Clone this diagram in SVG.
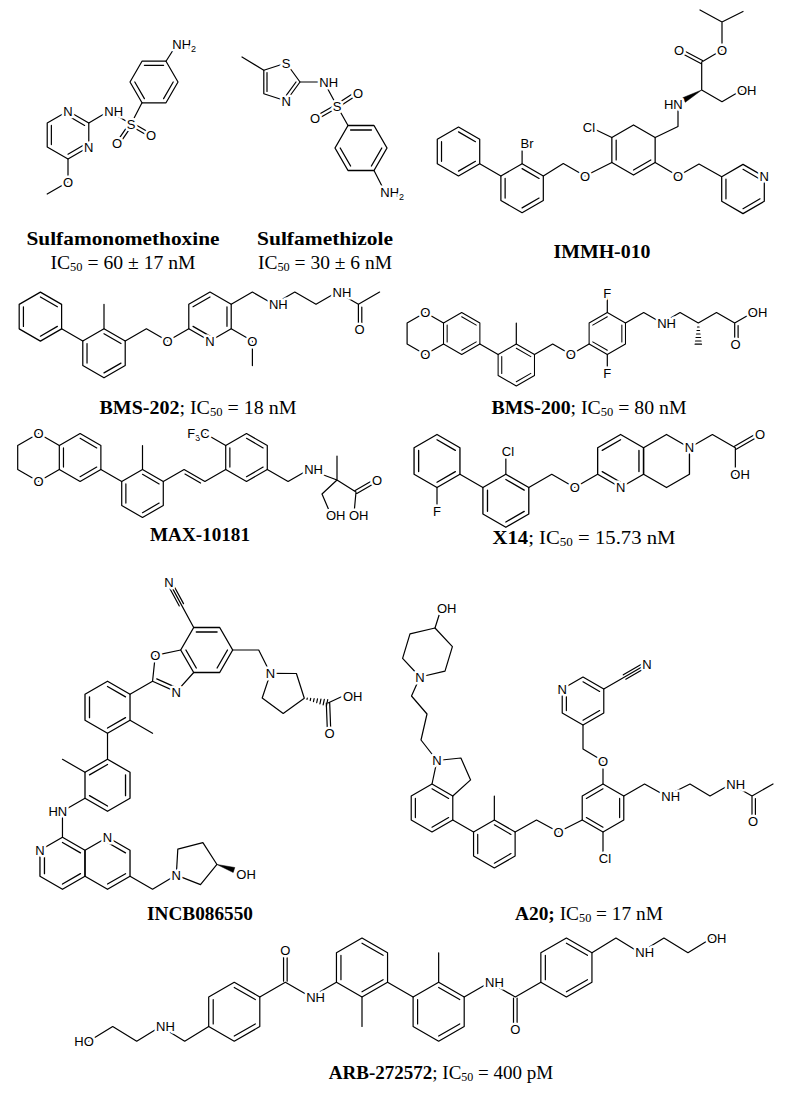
<svg xmlns="http://www.w3.org/2000/svg" width="787" height="1093" viewBox="0 0 787 1093">
<style>
.bd{fill:none;stroke:#000;stroke-width:1.2;stroke-linejoin:round;stroke-linecap:round}
.wg{fill:#000;stroke:#000;stroke-width:0.5;stroke-linejoin:round}
.a{font-family:"Liberation Sans",Arial,sans-serif;font-size:13px;fill:#000;stroke:#fff;stroke-width:5px;stroke-linejoin:round;paint-order:stroke;text-anchor:middle}
.as{text-anchor:start}
.ae{text-anchor:end}
.t{font-family:"Liberation Serif","Times New Roman",serif;font-size:19px;fill:#000;text-anchor:middle}
.b{font-weight:bold}
</style>
<defs>
<g id="h0"><polygon class="bd" points="0,-24 20.78,-12 20.78,12 0,24 -20.78,12 -20.78,-12"/></g>
<g id="hA"><use href="#h0"/><path class="bd" d="M0,-19.2L16.63,-9.6M16.63,9.6L0,19.2M-16.63,9.6L-16.63,-9.6"/></g>
<g id="hB"><use href="#h0"/><path class="bd" d="M16.63,-9.6L16.63,9.6M0,19.2L-16.63,9.6M-16.63,-9.6L0,-19.2"/></g>
<g id="hL"><polygon class="bd" points="0,-29.5 25.55,-14.75 25.55,14.75 0,29.5 -25.55,14.75 -25.55,-14.75"/><path class="bd" d="M0,-24.3L21.05,-12.15M21.05,12.15L0,24.3M-21.05,12.15L-21.05,-12.15"/></g>
</defs>
<rect width="787" height="1093" fill="#fff"/>

<g id="sulfamonomethoxine">
<use href="#hA" transform="translate(154,82) rotate(90)"/>
<use href="#hA" transform="translate(68,135)"/>
<path class="bd" d="M166,61.2L177,44M142,102.78L131,124L109,111L88.78,123M68,159L68,182L47.2,194M130.15,125.47L149.15,136.47M131.85,122.53L150.85,133.53M132.4,124.96L119.4,143.96M129.6,123.04L116.6,142.04"/>
<text class="a as" x="172.3" y="48.7">NH<tspan font-size="9" dy="3">2</tspan></text>
<text class="a" x="131" y="128.7">S</text>
<text class="a as" x="104.3" y="115.7">NH</text>
<text class="a" x="68" y="115.7">N</text>
<text class="a" x="88.78" y="151.7">N</text>
<text class="a" x="151" y="139.7">O</text>
<text class="a" x="117" y="147.7">O</text>
<text class="a" x="68" y="186.7">O</text>
<text class="t b" x="123" y="245" textLength="193" lengthAdjust="spacingAndGlyphs">Sulfamonomethoxine</text>
<text class="t" x="123" y="269" textLength="145" lengthAdjust="spacingAndGlyphs">IC<tspan font-size="12" dy="1.5">50</tspan><tspan dy="-1.5"> = 60 ± 17 nM</tspan></text>
</g>

<g id="sulfamethizole">
<polygon class="bd" points="286.2,63 300,82 286.2,101 263.8,93.8 263.8,70.2"/>
<use href="#hA" transform="translate(361,148) rotate(90) scale(1.0833)"/>
<path class="bd" d="M296,82L285,97.2M267,91.4L267,72.6M263.8,70.2L242,57M300,82L324,82L337,106L348,125.48M374,170.52L385,192M337.93,107.43L357.93,94.43M336.07,104.57L356.07,91.57M337.84,107.48L316.84,119.48M336.16,104.52L315.16,116.52"/>
<text class="a" x="286.2" y="67.7">S</text>
<text class="a" x="286.2" y="105.7">N</text>
<text class="a as" x="319.3" y="86.7">NH</text>
<text class="a" x="337" y="110.7">S</text>
<text class="a" x="358" y="97.7">O</text>
<text class="a" x="315" y="122.7">O</text>
<text class="a as" x="380.3" y="196.7">NH<tspan font-size="9" dy="3">2</tspan></text>
<text class="t b" x="325" y="245" textLength="136" lengthAdjust="spacingAndGlyphs">Sulfamethizole</text>
<text class="t" x="325" y="269" textLength="134" lengthAdjust="spacingAndGlyphs">IC<tspan font-size="12" dy="1.5">50</tspan><tspan dy="-1.5"> = 30 ± 6 nM</tspan></text>
</g>

<g id="immh-010">
<use href="#hA" transform="translate(458.5,151.5) scale(1.0208)"/>
<use href="#hA" transform="translate(522.1,188.25) scale(1.0208)"/>
<use href="#h0" transform="translate(633.5,150) scale(1.0417)"/>
<use href="#hA" transform="translate(743,189) scale(1.025)"/>
<path class="bd" d="M616.18,160L616.18,140M650.82,160L633.5,170M479.72,163.75L500.88,176M522.1,163.75L522.1,147M543.32,176L563.3,163.5L585,176L611.85,162.5M611.85,137.5L590,127M655.15,137.5L678,126.5L678,104M701.7,90L701.7,62M702.5,60.5L679.8,48.5M700.9,63.5L678.2,51.5M701.7,62L722,50L722,22M700,10L722,22L743,11.5M701.7,90L722,101.7L742,90M655.15,162.5L678,176L699,164L721.7,176.7"/>
<polygon class="wg" points="701.7,90 685.28,102.26 682.72,97.74"/>
<text class="a" x="527" y="148">Br</text>
<text class="a" x="589" y="132">Cl</text>
<text class="a" x="585" y="180.7">O</text>
<text class="a ae" x="682.7" y="108.7">HN</text>
<text class="a" x="679" y="54.7">O</text>
<text class="a" x="722" y="54.7">O</text>
<text class="a as" x="737" y="94.7">OH</text>
<text class="a" x="678" y="180.7">O</text>
<text class="a" x="764.3" y="181.4">N</text>
<text class="t b" x="602" y="258" textLength="97" lengthAdjust="spacingAndGlyphs">IMMH-010</text>
</g>

<g id="bms-202">
<use href="#hA" transform="translate(40.4,316.6) scale(1.0208)"/>
<use href="#hA" transform="translate(104,353.3) scale(1.0208)"/>
<use href="#hB" transform="translate(210,316.55) scale(1.0208)"/>
<path class="bd" d="M61.62,328.85L82.78,341.05M104,328.8L104,304.3M125.22,341.05L146.4,328.8L167.6,341.05L188.78,328.8M231.22,328.8L252.4,341.05L252.4,365.55M231.22,304.3L252.4,292.05L273.6,304.3L294.8,292.05L316,304.3L337.2,292.05L358.4,304.3L379.6,292.05M358.4,304.3L358.4,328.8M361.8,307L361.8,328.8"/>
<text class="a" x="167.6" y="345.7">O</text>
<text class="a" x="210" y="345.7">N</text>
<text class="a" x="252.4" y="345.7">O</text>
<text class="a as" x="268.9" y="309">NH</text>
<text class="a as" x="332.5" y="296.7">NH</text>
<text class="a" x="359.5" y="334">O</text>
<text class="t" x="198" y="414" textLength="197" lengthAdjust="spacingAndGlyphs"><tspan class="b">BMS-202</tspan>; IC<tspan font-size="12" dy="1.5">50</tspan><tspan dy="-1.5"> = 18 nM</tspan></text>
</g>

<g id="bms-200">
<use href="#hA" transform="translate(461.7,333.5) scale(0.875)"/>
<use href="#hA" transform="translate(516.3,365) scale(0.875)"/>
<use href="#hB" transform="translate(607.3,333.5) scale(0.875)"/>
<path class="bd" d="M425.3,312.5L407.1,323L407.1,344L425.3,354.5L443.51,344M425.3,312.5L443.51,323M479.89,344L498.11,354.5M516.3,344L516.3,323M534.49,354.5L552.7,344L570.9,354.5L589.11,344M607.3,312.5L607.3,293M607.3,354.5L607.3,373M625.49,323L643.7,312.5L661.9,323L680.1,312.5L698.3,323L716.5,312.5L734.7,323L752.9,312.5M734.7,323L734.7,344M738.1,325.5L738.1,344"/>
<path class="bd" d="M697.5,327L699.1,327M697,330.5L699.6,330.5M696.5,334L700.1,334M696,337.5L700.6,337.5M695.5,341L701.1,341M695.1,344.2L701.5,344.2"/>
<text class="a" x="425.3" y="317.2">O</text>
<text class="a" x="425.3" y="359.2">O</text>
<text class="a" x="570.9" y="359.2">O</text>
<text class="a" x="607.3" y="297.7">F</text>
<text class="a" x="607.3" y="378">F</text>
<text class="a as" x="657.2" y="327.7">NH</text>
<text class="a" x="735.5" y="349">O</text>
<text class="a as" x="747.8" y="317.2">OH</text>
<text class="t" x="589" y="414" textLength="195" lengthAdjust="spacingAndGlyphs"><tspan class="b">BMS-200</tspan>; IC<tspan font-size="12" dy="1.5">50</tspan><tspan dy="-1.5"> = 80 nM</tspan></text>
</g>

<g id="max-10181">
<use href="#hA" transform="translate(80.1,457.5)"/>
<use href="#hA" transform="translate(142.5,493.5)"/>
<use href="#hA" transform="translate(246.5,457.5)"/>
<path class="bd" d="M38.5,433.5L17.7,445.5L17.7,469.5L38.5,481.5L59.3,469.5M38.5,433.5L59.3,445.5M100.88,469.5L121.72,481.5M142.5,469.5L142.5,445.5M163.28,481.5L184.1,469.5L204.9,481.5L225.72,469.5M184.95,474.03L200.55,483.03M225.72,445.5L205,433.5M267.28,469.5L288.1,481.5L308.9,469.5L337,480L337,456M337,480L356,492L354,514M356.85,493.47L375.85,482.47M355.15,490.53L374.15,479.53M337,480L322,494L331,515"/>
<text class="a" x="38.5" y="438.2">O</text>
<text class="a" x="38.5" y="486.2">O</text>
<text class="a ae" x="209.7" y="438.2">F<tspan font-size="9" dy="3">3</tspan><tspan dy="-3">C</tspan></text>
<text class="a as" x="304.2" y="474.2">NH</text>
<text class="a" x="377" y="484.7">O</text>
<text class="a as" x="349" y="519.7">OH</text>
<text class="a as" x="326" y="519.7">OH</text>
<text class="t b" x="200" y="541" textLength="100" lengthAdjust="spacingAndGlyphs">MAX-10181</text>
</g>

<g id="x14">
<use href="#hA" transform="translate(437,461) scale(1.1042)"/>
<use href="#hA" transform="translate(505.85,500.75) scale(1.1042)"/>
<use href="#hB" transform="translate(620.6,461) scale(1.1042)"/>
<use href="#h0" transform="translate(666.5,461) scale(1.1042)"/>
<path class="bd" d="M459.95,474.25L482.9,487.5M437,487.5L437,511M505.85,474.25L505.85,456M528.8,487.5L551.75,474.25L574.7,487.5L597.65,474.25M689.45,447.75L712.4,434.5L735.35,447.75L735.35,474.25M736.2,449.22L759.15,435.97M734.5,446.28L757.45,433.03"/>
<text class="a" x="437" y="515.7">F</text>
<text class="a" x="508" y="455.7">Cl</text>
<text class="a" x="574.7" y="492.2">O</text>
<text class="a" x="620.6" y="492.2">N</text>
<text class="a" x="689.45" y="452.45">N</text>
<text class="a" x="760" y="438.7">O</text>
<text class="a as" x="730.3" y="479">OH</text>
<text class="t" x="584" y="544" textLength="183" lengthAdjust="spacingAndGlyphs"><tspan class="b">X14</tspan>; IC<tspan font-size="12" dy="1.5">50</tspan><tspan dy="-1.5"> = 15.73 nM</tspan></text>
</g>

<g id="incb086550">
<use href="#hA" transform="translate(206.7,650) rotate(90) scale(1.0833)"/>
<use href="#hA" transform="translate(107.51,707.26) scale(1.0833)"/>
<use href="#hB" transform="translate(107.51,785.26) scale(1.0833)"/>
<use href="#hA" transform="translate(62.47,863.26) scale(1.0833)"/>
<use href="#h0" transform="translate(107.51,863.26) scale(1.0833)"/>
<path class="bd" d="M107.51,842.46L125.53,852.86M125.53,873.66L107.51,884.06M180.7,650L155.27,655.4L152.55,681.26L176.3,691.84L193.7,672.52M156.76,678.83L175.29,687.08M193.7,627.48L170.6,584.9M183.51,603.65L172.71,583.75M179.29,605.95L168.49,586.05M152.55,681.26L130.03,694.26M130.03,720.26L152.55,733.26M107.51,733.26L107.51,759.26M84.99,772.26L62.47,759.26M84.99,798.26L62.47,811.26L62.47,837.26M130.03,876.26L152.55,889.26L176.3,875.1M232.7,650L258.7,650L270.4,673.35M328,703L343,696M326.3,703L327.3,729M329.7,703L330.7,729"/>
<polygon class="bd" points="176.3,875.1 177.8,849.2 202.9,842.6 216.96,864.47 200.5,884.6"/>
<polygon class="bd" points="270.4,673.35 296.4,673.5 304.3,698.2 283.2,713.4 262.2,698"/>
<polygon class="wg" points="216.96,864.47 233.2,872.47 234.8,867.53"/>
<path class="bd" d="M307.28,698.09L307,699.47M310.68,698.37L310.24,700.53M314.1,698.55L313.46,701.69M317.5,698.83L316.7,702.75M320.92,699.01L319.92,703.91M324.31,699.3L323.15,704.98M327.71,699.58L326.39,706.04"/>
<text class="a" x="169" y="586.7">N</text>
<text class="a" x="155.27" y="660.1">O</text>
<text class="a" x="176.3" y="696.5">N</text>
<text class="a ae" x="67.2" y="816">HN</text>
<text class="a" x="39.95" y="854.96">N</text>
<text class="a" x="107.51" y="841.96">N</text>
<text class="a" x="176.3" y="879.8">N</text>
<text class="a as" x="236.3" y="879.2">OH</text>
<text class="a" x="270.4" y="678">N</text>
<text class="a as" x="343" y="700.7">OH</text>
<text class="a" x="329.5" y="737.7">O</text>
<text class="t b" x="200" y="920" textLength="106" lengthAdjust="spacingAndGlyphs">INCB086550</text>
</g>

<g id="a20">
<polygon class="bd" points="420,677 445,671.2 452.4,646.7 435,628 410,633.8 402.6,658.3"/>
<use href="#hA" transform="translate(432,808)"/>
<use href="#hA" transform="translate(494.34,844)"/>
<use href="#hB" transform="translate(603,808)"/>
<use href="#hA" transform="translate(583,701)"/>
<path class="bd" d="M435,628L441,609M420,677L411.5,696L427,714L421,740L437,760.5L460.9,758L470.6,779.9L452.78,796M437,760.5L432,784M452.78,820L473.56,832M494.34,820L494.34,796M515.12,832L536.5,820L558.5,832L582.22,820M603,784L603,761L583,749L583,725M603,832L603,853M603.78,689L624.56,677L645.3,665M625.81,679.17L646.55,667.17M623.31,674.83L644.05,662.83M623.78,796L644.56,784L666,796L690,784L710,796L731,784L752,796L773,784M752,796L752,820M755.4,798.5L755.4,820"/>
<text class="a as" x="437" y="612.7">OH</text>
<text class="a" x="420" y="681.7">N</text>
<text class="a" x="437" y="765.2">N</text>
<text class="a" x="558.5" y="836.7">O</text>
<text class="a" x="603" y="765.7">O</text>
<text class="a" x="605" y="862.7">Cl</text>
<text class="a" x="562.22" y="693.7">N</text>
<text class="a" x="647" y="668.7">N</text>
<text class="a as" x="661.3" y="800.7">NH</text>
<text class="a as" x="726.3" y="788.7">NH</text>
<text class="a" x="753" y="825.7">O</text>
<text class="t" x="589" y="920" textLength="148" lengthAdjust="spacingAndGlyphs"><tspan class="b">A20;</tspan> IC<tspan font-size="12" dy="1.5">50</tspan><tspan dy="-1.5"> = 17 nM</tspan></text>
</g>

<g id="arb-272572">
<use href="#hL" transform="translate(362,967.5)"/>
<use href="#hL" transform="translate(438.65,1011.75)"/>
<use href="#hL" transform="translate(234.25,1011.75)"/>
<use href="#hL" transform="translate(566.4,967.5)"/>
<path class="bd" d="M387.55,982.25L413.1,997M362,997L362,1026.5M438.65,982.25L438.65,952.75M336.45,982.25L310.9,997L285.35,982.25L259.8,997M283.55,981.2L283.55,953M287.15,981.2L287.15,953M208.7,1026.5L184.7,1041.25L160.7,1026.5L136.7,1041.25L112.7,1026.5L88.7,1041.25M464.2,997L489.75,982.25L515.3,997L540.85,982.25M513.5,998L513.5,1026.5M517.1,998L517.1,1026.5M591.95,952.75L615.95,938L639.95,952.75L663.95,938L687.95,952.75L711.95,938"/>
<text class="a ae" x="93.75" y="1046">HO</text>
<text class="a as" x="156" y="1031.2">NH</text>
<text class="a" x="285.35" y="954.7">O</text>
<text class="a as" x="306.2" y="1001.7">NH</text>
<text class="a as" x="485" y="987">NH</text>
<text class="a" x="515.3" y="1033.7">O</text>
<text class="a as" x="635.25" y="957.45">NH</text>
<text class="a as" x="706.9" y="942.7">OH</text>
<text class="t" x="441" y="1079"><tspan class="b">ARB-272572</tspan>; IC<tspan font-size="12" dy="1.5">50</tspan><tspan dy="-1.5"> = 400 pM</tspan></text>
</g>
</svg>
